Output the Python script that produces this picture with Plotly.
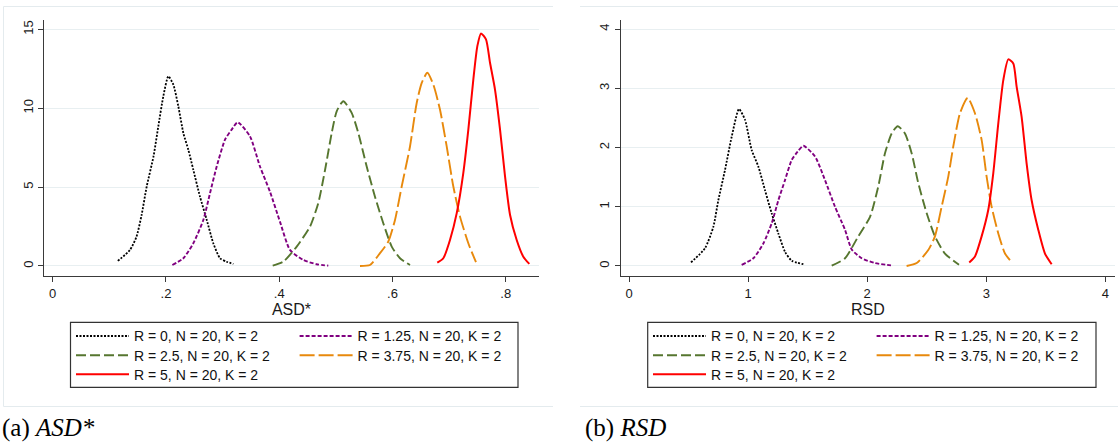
import plotly.graph_objects as go

W, H = 1118, 446

# Series labels (shared by both panels)
series_labels = [
    "R = 0, N = 20, K = 2",
    "R = 1.25, N = 20, K = 2",
    "R = 2.5, N = 20, K = 2",
    "R = 3.75, N = 20, K = 2",
    "R = 5, N = 20, K = 2",
]

# ---- Kernel density curves of ASD* ----
asd_r0_x = [0.115, 0.1365, 0.148, 0.157, 0.166, 0.178, 0.1865, 0.1953, 0.2042, 0.213, 0.2218,
            0.2307, 0.2395, 0.2483, 0.260, 0.272, 0.2836, 0.2955, 0.307, 0.319]
asd_r0_y = [0.32, 1.02, 1.86, 3.24, 5.04, 6.95, 8.86, 10.76, 12.03, 11.5, 10.13,
            8.43, 7.37, 6.10, 4.41, 2.92, 1.44, 0.49, 0.27, 0.13]

asd_r125_x = [0.2113, 0.2307, 0.2483, 0.266, 0.2778, 0.2896, 0.3043, 0.316, 0.3267, 0.3484,
              0.366, 0.3838, 0.4014, 0.419, 0.4426, 0.466, 0.4867]
asd_r125_y = [0.06, 0.49, 1.44, 2.92, 4.62, 6.31, 8.01, 8.65, 9.11, 8.22,
              6.31, 4.70, 2.80, 1.02, 0.38, 0.11, 0.02]

asd_r25_x = [0.3885, 0.4072, 0.4309, 0.4544, 0.469, 0.481, 0.4927, 0.5015, 0.5132, 0.528,
             0.5397, 0.5545, 0.569, 0.5838, 0.5987, 0.6133, 0.631]
asd_r25_y = [0.02, 0.27, 1.23, 2.50, 3.99, 6.10, 8.43, 9.81, 10.45, 9.71,
             8.43, 6.31, 4.41, 2.71, 1.23, 0.49, 0.06]

asd_r375_x = [0.5427, 0.5603, 0.578, 0.5927, 0.6045, 0.6163, 0.631, 0.6428, 0.6517, 0.6616,
              0.6722, 0.6839, 0.6958, 0.7075, 0.7193, 0.734, 0.7475]
asd_r375_y = [0.0, 0.06, 0.81, 1.55, 2.92, 5.04, 7.58, 10.34, 11.61, 12.25,
              11.5, 9.92, 7.58, 5.04, 3.13, 1.44, 0.24]

asd_r5_x = [0.6792, 0.6898, 0.7016, 0.7135, 0.7251, 0.734, 0.7428, 0.7499, 0.7564, 0.7652,
            0.7723, 0.7811, 0.790, 0.7988, 0.8076, 0.8194, 0.8311, 0.8417]
asd_r5_y = [0.21, 0.49, 1.65, 3.35, 5.89, 8.65, 11.82, 13.94, 14.75, 14.37,
            12.89, 11.19, 8.65, 5.68, 3.25, 1.65, 0.59, 0.13]

# ---- Kernel density curves of RSD ----
rsd_r0_x = [0.5206, 0.638, 0.708, 0.750, 0.806, 0.862, 0.9236, 0.974, 1.030, 1.086,
            1.142, 1.198, 1.254, 1.31, 1.366, 1.464]
rsd_r0_y = [0.06, 0.30, 0.66, 1.11, 1.62, 2.18, 2.65, 2.47, 1.96, 1.68,
            1.28, 0.89, 0.55, 0.24, 0.09, 0.03]

rsd_r125_x = [0.946, 1.044, 1.128, 1.198, 1.254, 1.31, 1.366, 1.416, 1.464, 1.562,
              1.646, 1.730, 1.814, 1.87, 1.954, 2.065, 2.2]
rsd_r125_y = [0.02, 0.13, 0.38, 0.72, 1.11, 1.45, 1.79, 1.93, 2.03, 1.85,
              1.45, 1.0, 0.61, 0.28, 0.13, 0.05, 0.01]

rsd_r25_x = [1.702, 1.814, 1.925, 2.024, 2.093, 2.149, 2.206, 2.256, 2.317, 2.374,
             2.429, 2.50, 2.569, 2.653, 2.771]
rsd_r25_y = [0.005, 0.13, 0.50, 0.83, 1.34, 1.90, 2.24, 2.36, 2.24, 1.90,
             1.40, 0.89, 0.50, 0.21, 0.02]

rsd_r375_x = [2.331, 2.416, 2.513, 2.569, 2.625, 2.681, 2.723, 2.779, 2.844, 2.905,
              2.961, 3.003, 3.045, 3.101, 3.157, 3.199]
rsd_r375_y = [0.0, 0.05, 0.27, 0.50, 1.0, 1.51, 2.02, 2.58, 2.84, 2.58,
              2.13, 1.51, 1.0, 0.55, 0.21, 0.10]

rsd_r5_x = [2.857, 2.905, 2.961, 3.017, 3.059, 3.101, 3.143, 3.185, 3.227, 3.255,
            3.297, 3.339, 3.381, 3.437, 3.493, 3.549]
rsd_r5_y = [0.06, 0.16, 0.50, 0.95, 1.57, 2.41, 3.14, 3.49, 3.42, 3.03,
            2.52, 1.73, 1.11, 0.61, 0.21, 0.03]

# Axis ticks
asd_ticks = [0, 0.2, 0.4, 0.6, 0.8]
asd_ticktext = ["0", ".2", ".4", ".6", ".8"]
asd_yticks = [0, 5, 10, 15]
rsd_ticks = [0, 1, 2, 3, 4]
rsd_ticktext = ["0", "1", "2", "3", "4"]
rsd_yticks = [0, 1, 2, 3, 4]

# Line styles per series
colors = ["#000000", "#800080", "#56762f", "#e8890c", "#ff0000"]
dashes = ["2px,1.5px", "4px,2px", "10px,4px", "15px,4px", "solid"]
widths = [1.8, 1.9, 1.9, 1.9, 2.0]

asd_series = [(asd_r0_x, asd_r0_y), (asd_r125_x, asd_r125_y), (asd_r25_x, asd_r25_y),
              (asd_r375_x, asd_r375_y), (asd_r5_x, asd_r5_y)]
rsd_series = [(rsd_r0_x, rsd_r0_y), (rsd_r125_x, rsd_r125_y), (rsd_r25_x, rsd_r25_y),
              (rsd_r375_x, rsd_r375_y), (rsd_r5_x, rsd_r5_y)]


def fx(px):
    return px / W


def fy(py):
    return 1 - py / H


SANS = "Liberation Sans, Arial, sans-serif"
SERIF = "Liberation Serif, Times New Roman, serif"

fig = go.Figure()

# Legend rows: two entries per row, one horizontal legend per row and panel
left_legends = ["legend", "legend2", "legend3"]
right_legends = ["legend4", "legend5", "legend6"]

for i, (xs, ys) in enumerate(asd_series):
    fig.add_trace(go.Scatter(
        x=xs, y=ys, mode="lines", name=series_labels[i],
        line=dict(color=colors[i], dash=dashes[i], width=widths[i], shape="spline", smoothing=0.6),
        xaxis="x", yaxis="y", legend=left_legends[i // 2], hoverinfo="x+y+name",
    ))
for i, (xs, ys) in enumerate(rsd_series):
    fig.add_trace(go.Scatter(
        x=xs, y=ys, mode="lines", name=series_labels[i],
        line=dict(color=colors[i], dash=dashes[i], width=widths[i], shape="spline", smoothing=0.6),
        xaxis="x2", yaxis="y2", legend=right_legends[i // 2], hoverinfo="x+y+name",
    ))

# Plot-area geometry (pixels)
plot_top, plot_bottom = 20, 276
left_plot = (44, 539)
right_plot = (620.7, 1115)

axis_common = dict(
    showline=True, linecolor="#3a3a3a", linewidth=1.2,
    ticks="outside", ticklen=5, tickwidth=1, tickcolor="#3a3a3a",
    tickfont=dict(family=SANS, size=13, color="#1a1a1a"),
    zeroline=False,
)

layout_axes = dict(
    xaxis=dict(domain=[fx(left_plot[0]), fx(left_plot[1])], range=[-0.0154, 0.8588],
               tickvals=asd_ticks, ticktext=asd_ticktext, showgrid=False, anchor="y",
               title=dict(text="ASD*", font=dict(family=SANS, size=16, color="#1a1a1a"), standoff=2),
               **axis_common),
    yaxis=dict(domain=[fy(plot_bottom), fy(plot_top)], range=[-0.636, 15.6],
               tickvals=asd_yticks, tickangle=-90, showgrid=True, gridcolor="#e8eff1", gridwidth=1.2,
               anchor="x", **axis_common),
    xaxis2=dict(domain=[fx(right_plot[0]), fx(right_plot[1])], range=[-0.0697, 4.081],
                tickvals=rsd_ticks, ticktext=rsd_ticktext, showgrid=False, anchor="y2",
                title=dict(text="RSD", font=dict(family=SANS, size=16, color="#1a1a1a"), standoff=2),
                **axis_common),
    yaxis2=dict(domain=[fy(plot_bottom), fy(plot_top)], range=[-0.169, 4.155],
                tickvals=rsd_yticks, tickangle=-90, showgrid=True, gridcolor="#e8eff1", gridwidth=1.2,
                anchor="x2", **axis_common),
)

# Legend placement
row_centers = [336, 355.3, 374.3]
item_offset = 15.6  # item centre below the legend's top edge
col_step = 223.6
item_w = 53


def legend_cfg(x_line_start, row_center):
    return dict(
        x=fx(x_line_start - 5), y=fy(row_center - item_offset), xanchor="left", yanchor="top",
        orientation="h", bgcolor="rgba(0,0,0,0)", borderwidth=0,
        itemwidth=item_w, entrywidth=col_step - (item_w + 10) - 5, entrywidthmode="pixels",
        font=dict(family=SANS, size=14, color="#111111"), itemclick=False, itemdoubleclick=False,
    )


legends = {}
for r in range(3):
    legends[left_legends[r]] = legend_cfg(76, row_centers[r])
    legends[right_legends[r]] = legend_cfg(653, row_centers[r])

border_col = "#e4ebee"
shapes = [
    # left panel frame
    dict(type="line", xref="paper", yref="paper", x0=fx(3.5), x1=fx(553), y0=fy(6.5), y1=fy(6.5),
         line=dict(color=border_col, width=1)),
    dict(type="line", xref="paper", yref="paper", x0=fx(3.5), x1=fx(553), y0=fy(406.5), y1=fy(406.5),
         line=dict(color=border_col, width=1)),
    dict(type="line", xref="paper", yref="paper", x0=fx(3.5), x1=fx(3.5), y0=fy(6.5), y1=fy(406.5),
         line=dict(color=border_col, width=1)),
    # right panel frame
    dict(type="line", xref="paper", yref="paper", x0=fx(580), x1=1, y0=fy(6.5), y1=fy(6.5),
         line=dict(color=border_col, width=1)),
    dict(type="line", xref="paper", yref="paper", x0=fx(580), x1=1, y0=fy(406.5), y1=fy(406.5),
         line=dict(color=border_col, width=1)),
    # legend boxes
    dict(type="rect", xref="paper", yref="paper", x0=fx(70.5), x1=fx(518), y0=fy(387.3), y1=fy(322.3),
         line=dict(color="#333333", width=1.2), fillcolor="white", layer="above"),
    dict(type="rect", xref="paper", yref="paper", x0=fx(647.7), x1=fx(1096), y0=fy(387.3), y1=fy(322.3),
         line=dict(color="#333333", width=1.2), fillcolor="white", layer="above"),
]

annotations = [
    dict(text="(a) <i>ASD*</i>", xref="paper", yref="paper", x=0, y=fy(428), xanchor="left",
         yanchor="middle", showarrow=False, font=dict(family=SERIF, size=25, color="#000000")),
    dict(text="(b) <i>RSD</i>", xref="paper", yref="paper", x=fx(583), y=fy(428), xanchor="left",
         yanchor="middle", showarrow=False, font=dict(family=SERIF, size=25, color="#000000")),
]

fig.update_layout(
    width=W, height=H, margin=dict(l=0, r=0, t=0, b=0),
    paper_bgcolor="white", plot_bgcolor="white",
    showlegend=True, shapes=shapes, annotations=annotations,
    **layout_axes, **legends,
)

fig.write_html("out.html")
